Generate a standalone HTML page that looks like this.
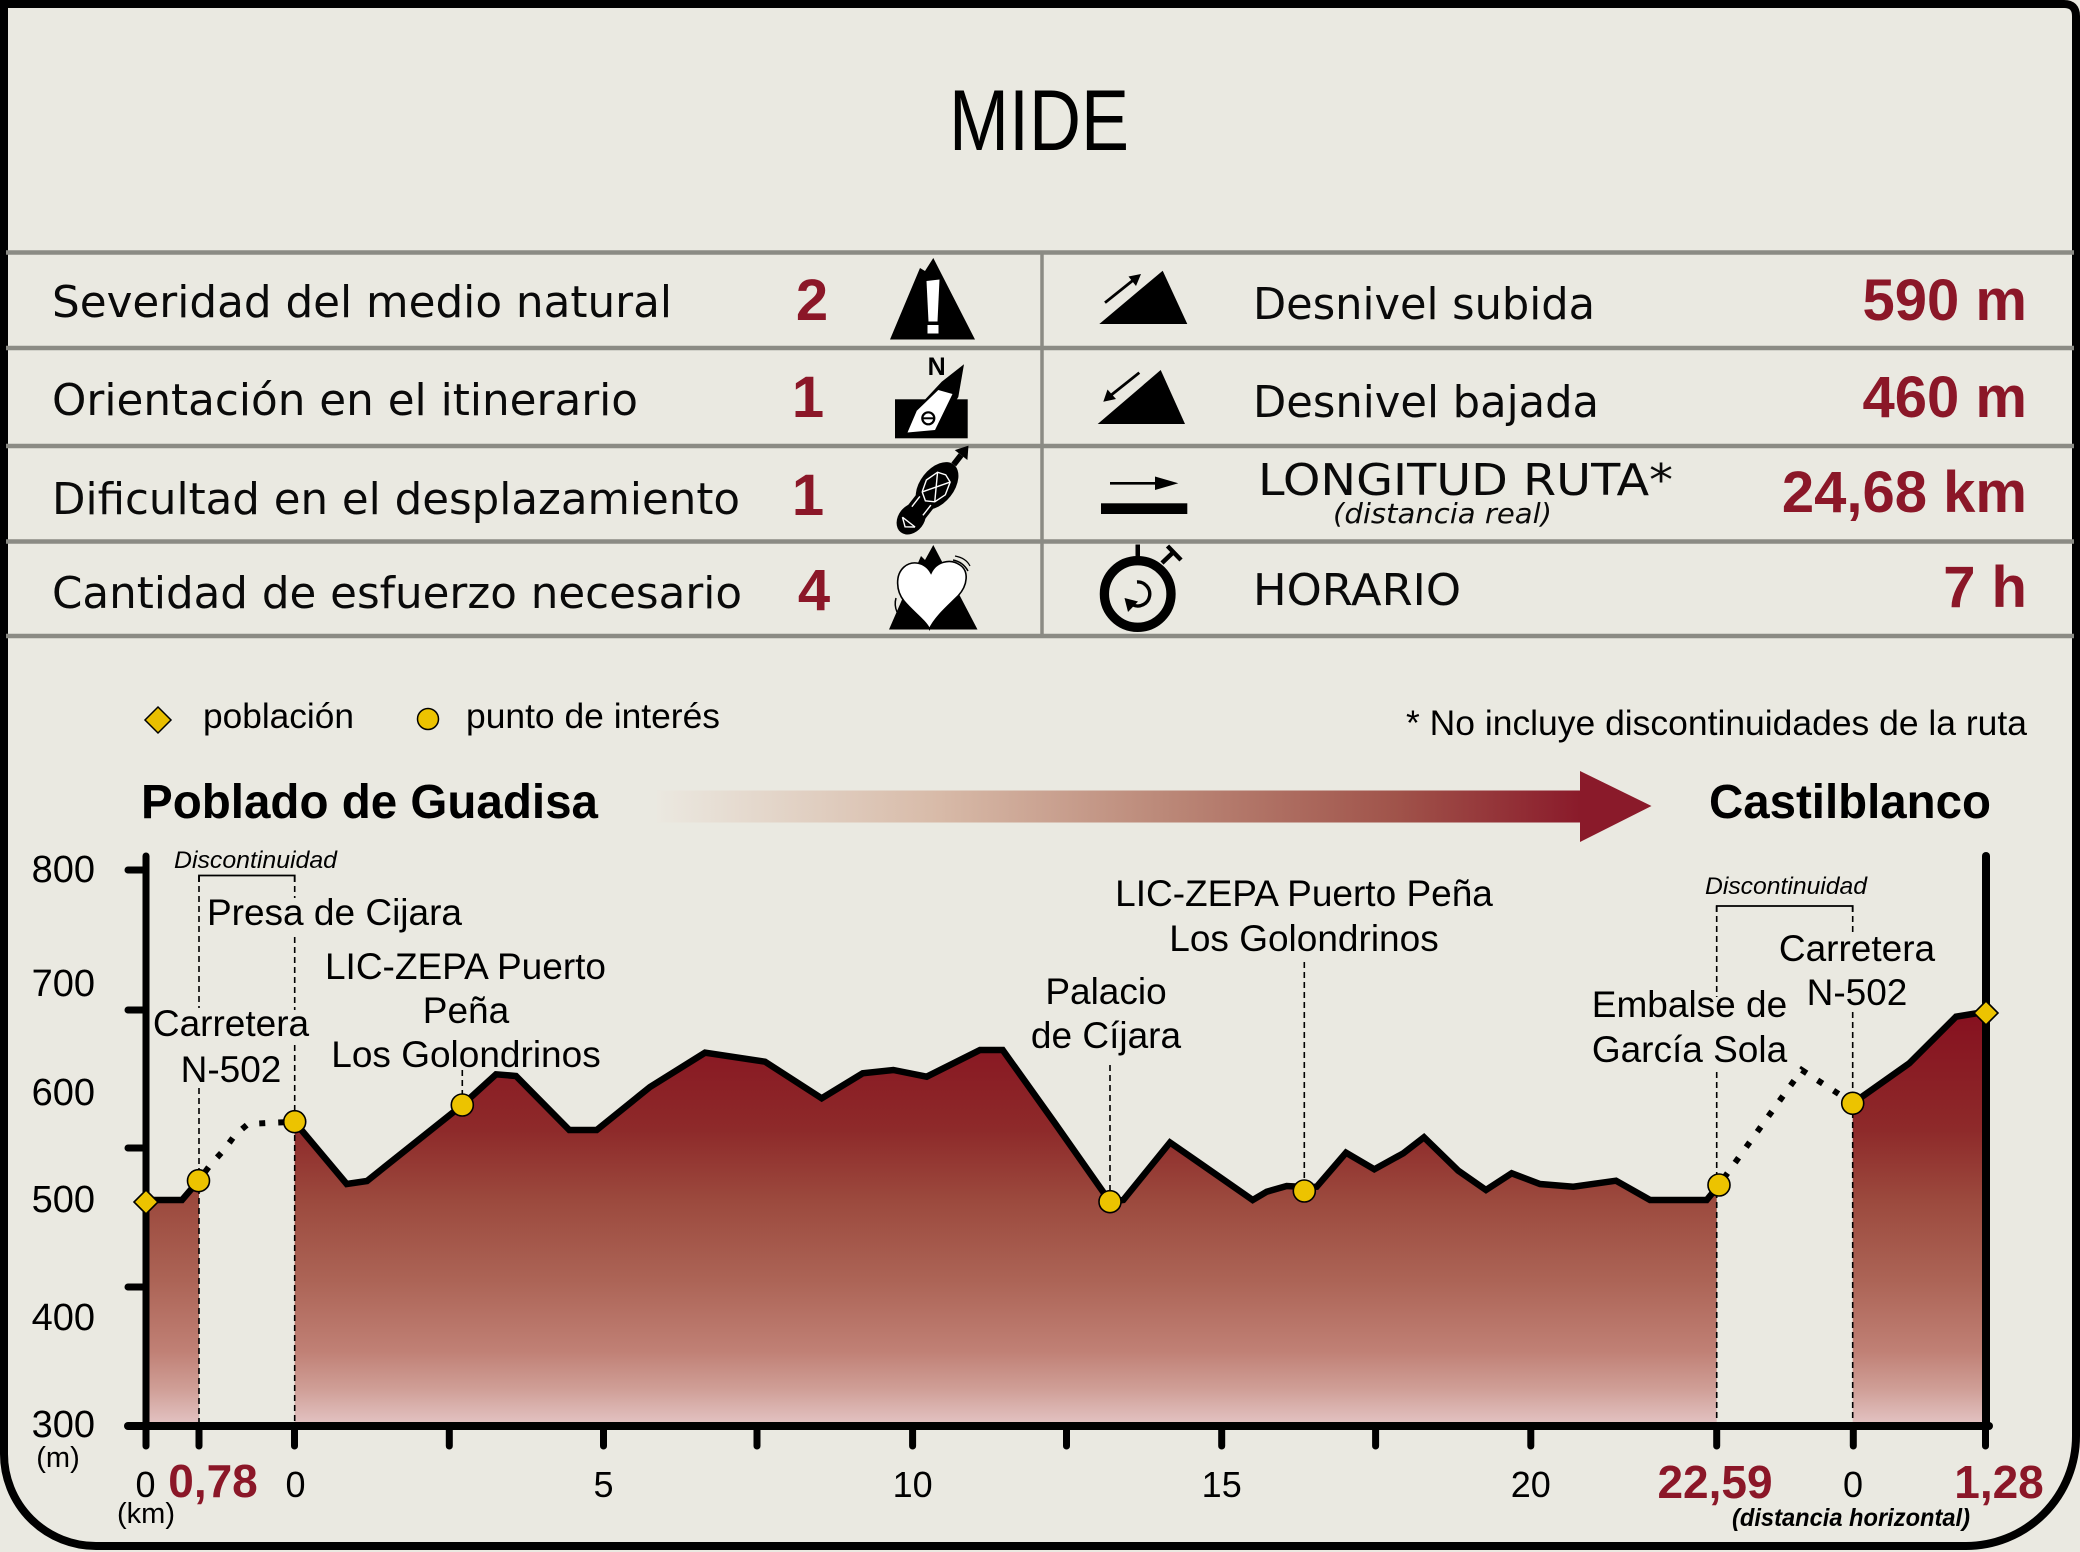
<!DOCTYPE html>
<html>
<head>
<meta charset="utf-8">
<style>
html,body{margin:0;padding:0;background:#eae9e1;}
svg{display:block;}
.ts{font-family:"DejaVu Sans","Liberation Sans",sans-serif;fill:#0a0a0a;}
.cl{font-family:"Liberation Sans",Arial,sans-serif;fill:#000;}
.rb{font-family:"Liberation Sans",Arial,sans-serif;font-weight:bold;fill:#8b1728;}
</style>
</head>
<body>
<svg xmlns="http://www.w3.org/2000/svg" width="2080" height="1552" viewBox="0 0 2080 1552">
<defs>
  <linearGradient id="pf" gradientUnits="userSpaceOnUse" x1="0" y1="1010" x2="0" y2="1426">
    <stop offset="0" stop-color="#86101f"/>
    <stop offset="0.29" stop-color="#8e2a2a"/>
    <stop offset="0.46" stop-color="#9c4a3e"/>
    <stop offset="0.65" stop-color="#ac6456"/>
    <stop offset="0.82" stop-color="#c08075"/>
    <stop offset="0.91" stop-color="#cf9e96"/>
    <stop offset="1" stop-color="#e4c5c5"/>
  </linearGradient>
  <linearGradient id="ar" gradientUnits="userSpaceOnUse" x1="657" y1="0" x2="1582" y2="0">
    <stop offset="0" stop-color="#ebe8e0"/>
    <stop offset="0.3" stop-color="#d8bba9"/>
    <stop offset="0.55" stop-color="#bb8878"/>
    <stop offset="0.8" stop-color="#a0534a"/>
    <stop offset="1" stop-color="#8a1a2a"/>
  </linearGradient>
</defs>

<rect width="2080" height="1552" fill="#eae9e1"/>

<!-- outer border -->
<path d="M4,4 H2064 Q2076,4 2076,16 V1436 A110,110 0 0 1 1966,1546 H96 A92,92 0 0 1 4,1454 Z" fill="none" stroke="#000" stroke-width="8"/>

<!-- MIDE -->
<text x="949" y="150" font-family="Liberation Sans, Arial, sans-serif" font-size="86" textLength="180" lengthAdjust="spacingAndGlyphs" fill="#000">MIDE</text>

<!-- table lines -->
<g stroke="#8b8b84" stroke-width="4.5">
  <line x1="6" y1="252.5" x2="2074" y2="252.5"/>
  <line x1="6" y1="348" x2="2074" y2="348"/>
  <line x1="6" y1="446" x2="2074" y2="446"/>
  <line x1="6" y1="541.5" x2="2074" y2="541.5"/>
  <line x1="6" y1="636" x2="2074" y2="636"/>
  <line x1="1042" y1="252" x2="1042" y2="636" stroke-width="3.5"/>
</g>

<!-- table left texts -->
<text class="ts" x="52" y="317" font-size="44" textLength="620" lengthAdjust="spacingAndGlyphs">Severidad del medio natural</text>
<text class="ts" x="52" y="415" font-size="44" textLength="586" lengthAdjust="spacingAndGlyphs">Orientación en el itinerario</text>
<text class="ts" x="52" y="514" font-size="44" textLength="688" lengthAdjust="spacingAndGlyphs">Dificultad en el desplazamiento</text>
<text class="ts" x="52" y="608" font-size="44" textLength="690" lengthAdjust="spacingAndGlyphs">Cantidad de esfuerzo necesario</text>

<text class="rb" x="812" y="320" font-size="58" text-anchor="middle">2</text>
<text class="rb" x="808" y="417" font-size="58" text-anchor="middle">1</text>
<text class="rb" x="808" y="515" font-size="58" text-anchor="middle">1</text>
<text class="rb" x="814" y="610" font-size="58" text-anchor="middle">4</text>

<!-- table right texts -->
<text class="ts" x="1253" y="319" font-size="44" textLength="342" lengthAdjust="spacingAndGlyphs">Desnivel subida</text>
<text class="ts" x="1253" y="417" font-size="44" textLength="346" lengthAdjust="spacingAndGlyphs">Desnivel bajada</text>
<text class="ts" x="1258" y="495" font-size="44" textLength="415" lengthAdjust="spacingAndGlyphs">LONGITUD RUTA*</text>
<text class="ts" x="1333" y="523" font-size="28" font-style="italic" textLength="219" lengthAdjust="spacingAndGlyphs" fill="#222">(distancia real)</text>
<text class="ts" x="1253" y="605" font-size="44" textLength="208" lengthAdjust="spacingAndGlyphs">HORARIO</text>

<text class="rb" x="2027" y="320" font-size="58" text-anchor="end">590 m</text>
<text class="rb" x="2027" y="417" font-size="58" text-anchor="end">460 m</text>
<text class="rb" x="2027" y="512" font-size="58" text-anchor="end">24,68 km</text>
<text class="rb" x="2027" y="607" font-size="58" text-anchor="end">7 h</text>

<!-- icons left -->
<!-- warning mountain -->
<polygon points="890,339.5 920,268 925,271 933.3,258 975,339.5" fill="#000"/>
<polygon points="926.5,281 939.5,279.5 937.5,321.5 928.5,321.5" fill="#fff"/>
<rect x="927.5" y="325" width="11" height="8.5" fill="#fff"/>
<!-- compass -->
<rect x="895" y="399.3" width="72.7" height="39" fill="#000"/>
<polygon points="964,364.3 958.3,397 936.7,432 906,434.5 916,409.3 941.7,381.7" fill="#000"/>
<polygon points="907.5,432.5 916.8,410.8 938.3,390 952.5,394 935,430" fill="#fff"/>
<circle cx="928.3" cy="418.3" r="6" fill="none" stroke="#000" stroke-width="2.2"/>
<line x1="923" y1="418.3" x2="933.6" y2="418.3" stroke="#000" stroke-width="2"/>
<text x="936.7" y="375" font-family="Liberation Sans, Arial, sans-serif" font-weight="bold" font-size="25" text-anchor="middle" fill="#000">N</text>
<!-- boot -->
<g transform="rotate(-52 926 500)">
  <ellipse cx="944" cy="500" rx="27" ry="17" fill="#000"/>
  <ellipse cx="902" cy="500" rx="17" ry="13" fill="#000"/>
  <rect x="902" y="489" width="42" height="22" fill="#000"/>
  <g stroke="#fff" stroke-width="1.4" fill="none">
    <polyline points="930,492 942,488 955,492 958,500 955,508 942,512 930,508 925,500 930,492"/>
    <line x1="930" y1="492" x2="955" y2="508"/>
    <line x1="930" y1="508" x2="955" y2="492"/>
    <line x1="912" y1="493" x2="925" y2="493"/>
    <line x1="912" y1="507" x2="925" y2="507"/>
    <polyline points="898,492 892,500 898,508"/>
    <line x1="898" y1="492" x2="898" y2="508"/>
  </g>
  <rect x="971" y="497" width="12" height="6" fill="#000"/>
  <polygon points="983,492 995,500 983,508" fill="#000"/>
</g>
<!-- heart mountain -->
<polygon points="889,629.5 921,556 925,560 933.3,545 977.5,629.5" fill="#000"/>
<path d="M931,573 C925,562 912,560 904,567 C895,575 896,591 904,601 C913,612 925,620 929.5,629 C935,617 948,606 958,596 C968,585 969,571 960,565 C950,558 936,562 931,573 Z" fill="#fff" stroke="#000" stroke-width="1.6"/>
<path d="M953,560 Q963,562 968,571" fill="none" stroke="#000" stroke-width="1.5"/>
<path d="M955,556 Q966,558 970,566" fill="none" stroke="#000" stroke-width="1.2"/>
<path d="M896,598 Q894,605 897,612" fill="none" stroke="#000" stroke-width="1.5"/>

<!-- icons right -->
<polygon points="1099.3,324 1187.3,324 1162.7,270.7" fill="#000"/>
<line x1="1105" y1="302.7" x2="1134" y2="279.5" stroke="#000" stroke-width="2.8"/>
<polygon points="1141,274 1128.5,276.5 1136,286" fill="#000"/>
<polygon points="1097.7,424 1185,424 1160.7,370" fill="#000"/>
<line x1="1139.3" y1="372.7" x2="1110" y2="396" stroke="#000" stroke-width="2.8"/>
<polygon points="1103.3,401.7 1107.5,389.5 1116,399" fill="#000"/>
<line x1="1110" y1="483.3" x2="1158" y2="483.3" stroke="#000" stroke-width="2.6"/>
<polygon points="1155,476.5 1178.3,483.3 1155,490" fill="#000"/>
<rect x="1101" y="503.3" width="86.3" height="10.7" fill="#000"/>
<circle cx="1137.7" cy="594" r="33.3" fill="none" stroke="#000" stroke-width="9.3"/>
<rect x="1135.5" y="544.5" width="4.5" height="14" fill="#000"/>
<line x1="1162" y1="563" x2="1173.5" y2="552" stroke="#000" stroke-width="4.5"/>
<line x1="1167.5" y1="546" x2="1181" y2="560" stroke="#000" stroke-width="4.5"/>
<path d="M1137,582 A12,12 0 1 1 1133,605" fill="none" stroke="#000" stroke-width="3.4"/>
<polygon points="1124.5,598 1138,601.5 1128,612" fill="#000"/>

<!-- legend -->
<polygon points="158,707 171,720 158,733 145,720" fill="#e9bf00" stroke="#000" stroke-width="1.5"/>
<text class="cl" x="203" y="728" font-size="35" textLength="151" lengthAdjust="spacingAndGlyphs">población</text>
<circle cx="428" cy="719" r="10.5" fill="#ecc300" stroke="#000" stroke-width="1.5"/>
<text class="cl" x="466" y="728" font-size="35" textLength="254" lengthAdjust="spacingAndGlyphs">punto de interés</text>
<text class="cl" x="2027" y="735" font-size="35" text-anchor="end" textLength="621" lengthAdjust="spacingAndGlyphs">* No incluye discontinuidades de la ruta</text>

<!-- title row -->
<text class="cl" x="141" y="818" font-size="48" font-weight="bold" textLength="457" lengthAdjust="spacingAndGlyphs">Poblado de Guadisa</text>
<text class="cl" x="1709" y="818" font-size="48" font-weight="bold" textLength="282" lengthAdjust="spacingAndGlyphs">Castilblanco</text>
<rect x="657" y="790.5" width="925" height="32" fill="url(#ar)"/>
<polygon points="1580,771 1651.5,806 1580,842" fill="#8a1a2a"/>

<!-- profile fills -->
<path d="M146,1200 L182,1200 L199,1180 L199,1426 L146,1426 Z" fill="url(#pf)"/>
<path d="M294.7,1122 L346.7,1184 L367,1181 L462.3,1105 L496,1074.3 L516,1076 L569.3,1130 L596.7,1130 L650,1087 L705,1052.7 L765,1061.7 L821.7,1098.3 L862.7,1073.3 L893.3,1070 L926.7,1076.7 L980,1050 L1002.7,1050 L1055,1123.3 L1110,1201.7 L1123.3,1200 L1170,1142.5 L1200,1163.3 L1252.7,1200 L1266.7,1191.7 L1286.7,1186 L1304.3,1187 L1316.7,1186.7 L1346,1152.7 L1374.3,1169.3 L1403.3,1153.3 L1424,1137.3 L1458.3,1170.7 L1486,1190 L1511.7,1173.3 L1540,1184 L1573.3,1186.7 L1616,1180.7 L1650,1200 L1706.7,1200 L1716.7,1187 L1716.7,1426 L294.7,1426 Z" fill="url(#pf)"/>
<path d="M1852.7,1103.3 L1909.3,1063.3 L1956,1016.7 L1976.7,1013.3 L1986,1013 L1986,1426 L1852.7,1426 Z" fill="url(#pf)"/>

<!-- dashed guide lines -->
<g stroke="#000" stroke-width="1.6" stroke-dasharray="6 4" fill="none">
  <line x1="199" y1="876" x2="199" y2="1008"/>
  <line x1="199" y1="1088" x2="199" y2="1426"/>
  <line x1="294.7" y1="876" x2="294.7" y2="898"/>
  <line x1="294.7" y1="937" x2="294.7" y2="1010"/>
  <line x1="294.7" y1="1045" x2="294.7" y2="1426"/>
  <line x1="462.3" y1="1070" x2="462.3" y2="1105"/>
  <line x1="1110" y1="1065" x2="1110" y2="1201"/>
  <line x1="1304.3" y1="962" x2="1304.3" y2="1190"/>
  <line x1="1716.7" y1="906" x2="1716.7" y2="997"/>
  <line x1="1716.7" y1="1072" x2="1716.7" y2="1426"/>
  <line x1="1852.7" y1="906" x2="1852.7" y2="935"/>
  <line x1="1852.7" y1="1012" x2="1852.7" y2="1426"/>
</g>
<!-- brackets -->
<polyline points="199,882 199,875.5 294.7,875.5 294.7,882" fill="none" stroke="#000" stroke-width="1.8"/>
<polyline points="1716.7,912 1716.7,906 1852.7,906 1852.7,912" fill="none" stroke="#000" stroke-width="1.8"/>

<!-- profile lines -->
<g fill="none" stroke="#000" stroke-width="6.5" stroke-linejoin="miter" stroke-miterlimit="6">
  <path d="M146,1200 L182,1200 L198.5,1180.7"/>
  <path d="M294.7,1122 L346.7,1184 L367,1181 L462.3,1105 L496,1074.3 L516,1076 L569.3,1130 L596.7,1130 L650,1087 L705,1052.7 L765,1061.7 L821.7,1098.3 L862.7,1073.3 L893.3,1070 L926.7,1076.7 L980,1050 L1002.7,1050 L1055,1123.3 L1110,1201.7 L1123.3,1200 L1170,1142.5 L1200,1163.3 L1252.7,1200 L1266.7,1191.7 L1286.7,1186 L1304.3,1187 L1316.7,1186.7 L1346,1152.7 L1374.3,1169.3 L1403.3,1153.3 L1424,1137.3 L1458.3,1170.7 L1486,1190 L1511.7,1173.3 L1540,1184 L1573.3,1186.7 L1616,1180.7 L1650,1200 L1706.7,1200 L1719,1185"/>
  <path d="M1852.7,1103.3 L1909.3,1063.3 L1956,1016.7 L1976.7,1013.3 L1986,1013"/>
</g>
<!-- dotted discontinuities -->
<g fill="none" stroke="#000" stroke-width="6" stroke-dasharray="6 13">
  <path d="M205,1172 L211,1164 L224,1150 L235,1135 L248,1124 L268,1123 L290,1122"/>
  <path d="M1724,1178 L1801.7,1070 L1848,1100"/>
</g>

<!-- axes -->
<g stroke="#000" stroke-linecap="round" fill="none">
  <line x1="146" y1="856" x2="146" y2="1426" stroke-width="7"/>
  <line x1="1986" y1="856" x2="1986" y2="1426" stroke-width="8"/>
  <line x1="128" y1="1426" x2="1989" y2="1426" stroke-width="8"/>
  <g stroke-width="7">
    <line x1="128" y1="870" x2="146" y2="870"/>
    <line x1="128" y1="1010" x2="146" y2="1010"/>
    <line x1="128" y1="1148" x2="146" y2="1148"/>
    <line x1="128" y1="1287" x2="146" y2="1287"/>
    <line x1="146" y1="1426" x2="146" y2="1446"/>
    <line x1="199" y1="1426" x2="199" y2="1446"/>
    <line x1="294.5" y1="1426" x2="294.5" y2="1446"/>
    <line x1="449.3" y1="1426" x2="449.3" y2="1446"/>
    <line x1="603.5" y1="1426" x2="603.5" y2="1446"/>
    <line x1="757" y1="1426" x2="757" y2="1446"/>
    <line x1="912.6" y1="1426" x2="912.6" y2="1446"/>
    <line x1="1066.5" y1="1426" x2="1066.5" y2="1446"/>
    <line x1="1221.7" y1="1426" x2="1221.7" y2="1446"/>
    <line x1="1375.6" y1="1426" x2="1375.6" y2="1446"/>
    <line x1="1530.8" y1="1426" x2="1530.8" y2="1446"/>
    <line x1="1716.7" y1="1426" x2="1716.7" y2="1446"/>
    <line x1="1853.3" y1="1426" x2="1853.3" y2="1446"/>
    <line x1="1985.5" y1="1426" x2="1985.5" y2="1446"/>
  </g>
</g>

<!-- markers -->
<g fill="#ecc300" stroke="#000" stroke-width="1.6">
  <circle cx="198.5" cy="1180.7" r="11"/>
  <circle cx="294.7" cy="1121.7" r="11"/>
  <circle cx="462.3" cy="1105" r="11"/>
  <circle cx="1110" cy="1201.7" r="11"/>
  <circle cx="1304.3" cy="1191" r="11"/>
  <circle cx="1719" cy="1185" r="11"/>
  <circle cx="1852.7" cy="1103.3" r="11"/>
  <polygon points="146,1190 158,1202 146,1214 134,1202"/>
  <polygon points="1986,1001 1998,1013 1986,1025 1974,1013"/>
</g>

<!-- y labels -->
<g class="cl" font-size="38" text-anchor="end">
  <text x="95" y="882">800</text>
  <text x="95" y="996">700</text>
  <text x="95" y="1105">600</text>
  <text x="95" y="1212">500</text>
  <text x="95" y="1330">400</text>
  <text x="95" y="1437">300</text>
</g>
<text class="cl" x="58" y="1467" font-size="29" text-anchor="middle">(m)</text>
<text class="cl" x="146" y="1523" font-size="29" text-anchor="middle">(km)</text>

<!-- x labels -->
<g class="cl" font-size="36" text-anchor="middle">
  <text x="145.5" y="1497">0</text>
  <text x="295.5" y="1497">0</text>
  <text x="603.5" y="1497">5</text>
  <text x="912.6" y="1497">10</text>
  <text x="1221.7" y="1497">15</text>
  <text x="1530.8" y="1497">20</text>
  <text x="1853" y="1497">0</text>
</g>
<g class="rb" font-size="46" text-anchor="middle">
  <text x="213" y="1497">0,78</text>
  <text x="1715" y="1498">22,59</text>
  <text x="1999" y="1498">1,28</text>
</g>
<text class="cl" x="1732" y="1526" font-size="25" font-weight="bold" font-style="italic" textLength="238" lengthAdjust="spacingAndGlyphs">(distancia horizontal)</text>

<!-- chart labels -->
<text class="cl" x="174" y="868" font-size="24" font-style="italic" textLength="163" lengthAdjust="spacingAndGlyphs">Discontinuidad</text>
<text class="cl" x="1705" y="894" font-size="24" font-style="italic" textLength="162" lengthAdjust="spacingAndGlyphs">Discontinuidad</text>
<g class="cl" font-size="37" text-anchor="middle">
  <text x="334.5" y="925">Presa de Cijara</text>
  <text x="231" y="1036">Carretera</text>
  <text x="231" y="1082">N-502</text>
  <text x="465.5" y="979">LIC-ZEPA Puerto</text>
  <text x="466" y="1023">Peña</text>
  <text x="466" y="1067">Los Golondrinos</text>
  <text x="1304" y="906">LIC-ZEPA Puerto Peña</text>
  <text x="1304" y="951">Los Golondrinos</text>
  <text x="1106" y="1004">Palacio</text>
  <text x="1106" y="1048">de Cíjara</text>
  <text x="1689.5" y="1017">Embalse de</text>
  <text x="1689.5" y="1062">García Sola</text>
  <text x="1857" y="961">Carretera</text>
  <text x="1857" y="1005">N-502</text>
</g>
</svg>
</body>
</html>
